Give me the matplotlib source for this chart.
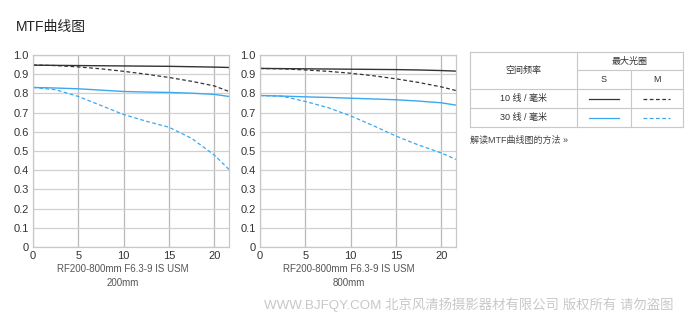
import matplotlib
matplotlib.use("Agg")
import matplotlib.pyplot as plt
from matplotlib.lines import Line2D

plt.rcParams['font.family'] = ['Liberation Sans', 'Noto Sans CJK SC', 'DejaVu Sans']

# ---------------- data ----------------
x_pos = [0, 2.5, 5, 7.5, 10, 12.5, 15, 17.5, 20, 21.63]

# 200mm
w_10s = [0.947, 0.946, 0.945, 0.944, 0.943, 0.942, 0.941, 0.939, 0.937, 0.935]
w_10m = [0.948, 0.945, 0.938, 0.928, 0.915, 0.900, 0.883, 0.863, 0.839, 0.810]
w_30s = [0.831, 0.828, 0.824, 0.817, 0.810, 0.807, 0.805, 0.801, 0.795, 0.784]
w_30m = [0.831, 0.819, 0.784, 0.737, 0.690, 0.655, 0.624, 0.566, 0.479, 0.404]

# 800mm
t_10s = [0.930, 0.929, 0.928, 0.927, 0.926, 0.925, 0.924, 0.922, 0.919, 0.916]
t_10m = [0.930, 0.928, 0.922, 0.915, 0.905, 0.892, 0.876, 0.857, 0.834, 0.815]
t_30s = [0.789, 0.786, 0.782, 0.779, 0.775, 0.771, 0.767, 0.760, 0.751, 0.739]
t_30m = [0.789, 0.785, 0.758, 0.726, 0.683, 0.632, 0.578, 0.531, 0.490, 0.456]

lens_name = "RF200-800mm F6.3-9 IS USM"
focal_labels = ["200mm", "800mm"]

panels = [
    (w_10s, w_10m, w_30s, w_30m),
    (t_10s, t_10m, t_30s, t_30m),
]

x_ticks = [0, 5, 10, 15, 20]
y_ticks = [0, 0.1, 0.2, 0.3, 0.4, 0.5, 0.6, 0.7, 0.8, 0.9, 1.0]
y_labels = ["0", "0.1", "0.2", "0.3", "0.4", "0.5", "0.6", "0.7", "0.8", "0.9", "1.0"]

freq_labels = ["10 线 / 毫米", "30 线 / 毫米"]

BLACK = "#333333"
BLUE = "#3aa8f0"
W, H = 700, 329

fig = plt.figure(figsize=(7, 3.29), dpi=100)

def fx(px):
    return px / W

def fy(py):
    return 1 - py / H

axes_px = [(33, 229), (260, 456)]
label_cx = [123, 349]
top, bottom = 55, 247

for (x0, x1), cx, flab, (s10, m10, s30, m30) in zip(axes_px, label_cx, focal_labels, panels):
    ax = fig.add_axes([fx(x0), fy(bottom), fx(x1 - x0), (bottom - top) / H])
    ax.set_xlim(0, 21.63)
    ax.set_ylim(0, 1.0)
    ax.set_xticks(x_ticks)
    ax.set_yticks(y_ticks)
    ax.set_yticklabels(y_labels)
    ax.grid(True, axis='y', color="#d0d0d0", lw=0.9)
    ax.grid(True, axis='x', color="#b8b8b8", lw=0.9)
    ax.set_axisbelow(True)
    for sp in ax.spines.values():
        sp.set_color("#c8c8c8")
        sp.set_linewidth(0.9)
    ax.tick_params(length=0, labelsize=8, colors="#333333", pad=3)
    ax.plot(x_pos, s10, color=BLACK, lw=1.0)
    ax.plot(x_pos, m10, color=BLACK, lw=0.9, ls=(0, (3, 2)))
    ax.plot(x_pos, s30, color=BLUE, lw=1.0)
    ax.plot(x_pos, m30, color=BLUE, lw=0.9, ls=(0, (3, 2)))
    fig.text(fx(cx), fy(269), lens_name, fontsize=7, color="#555555", ha='center', va='center')
    fig.text(fx(cx), fy(283), flab, fontsize=7, color="#555555", ha='center', va='center')

# title
fig.text(fx(16), fy(27), "MTF曲线图", fontsize=10, color="#222222", va='center', ha='left')

# table
tx0, tx1 = 470, 683
tc1, tc2 = 577, 631
ty = [52, 70, 89, 108, 127]
lc = "#c8c8c8"

def hline(y, xa, xb):
    fig.add_artist(Line2D([fx(xa), fx(xb)], [fy(y), fy(y)], color=lc, lw=0.8))

def vline(x, ya, yb):
    fig.add_artist(Line2D([fx(x), fx(x)], [fy(ya), fy(yb)], color=lc, lw=0.8))

hline(ty[0], tx0, tx1)
hline(ty[1], tc1, tx1)
hline(ty[2], tx0, tx1)
hline(ty[3], tx0, tx1)
hline(ty[4], tx0, tx1)
vline(tx0, ty[0], ty[4])
vline(tx1, ty[0], ty[4])
vline(tc1, ty[0], ty[4])
vline(tc2, ty[1], ty[4])

fs = 6.5
fig.text(fx((tx0 + tc1) / 2), fy((ty[0] + ty[2]) / 2), "空间频率", fontsize=fs, ha='center', va='center', color="#333333")
fig.text(fx((tc1 + tx1) / 2), fy((ty[0] + ty[1]) / 2), "最大光圈", fontsize=fs, ha='center', va='center', color="#333333")
fig.text(fx((tc1 + tc2) / 2), fy((ty[1] + ty[2]) / 2), "S", fontsize=fs, ha='center', va='center', color="#333333")
fig.text(fx((tc2 + tx1) / 2), fy((ty[1] + ty[2]) / 2), "M", fontsize=fs, ha='center', va='center', color="#333333")
for i, (lab, col) in enumerate(zip(freq_labels, [BLACK, BLUE])):
    yc = (ty[2 + i] + ty[3 + i]) / 2
    fig.text(fx((tx0 + tc1) / 2), fy(yc), lab, fontsize=fs, ha='center', va='center', color="#333333")
    fig.add_artist(Line2D([fx(589), fx(619)], [fy(yc), fy(yc)], color=col, lw=0.9))
    fig.add_artist(Line2D([fx(643), fx(670)], [fy(yc), fy(yc)], color=col, lw=0.9, ls=(0, (3, 2))))

fig.text(fx(470), fy(140), "解读MTF曲线图的方法 »", fontsize=6.5, ha='left', va='center', color="#444444")

# watermark
fig.text(fx(469), fy(305), "WWW.BJFQY.COM 北京风清扬摄影器材有限公司 版权所有 请勿盗图",
         fontsize=9.6, ha='center', va='center', color="#c8c8c8")

fig.savefig("out.png", dpi=100)
